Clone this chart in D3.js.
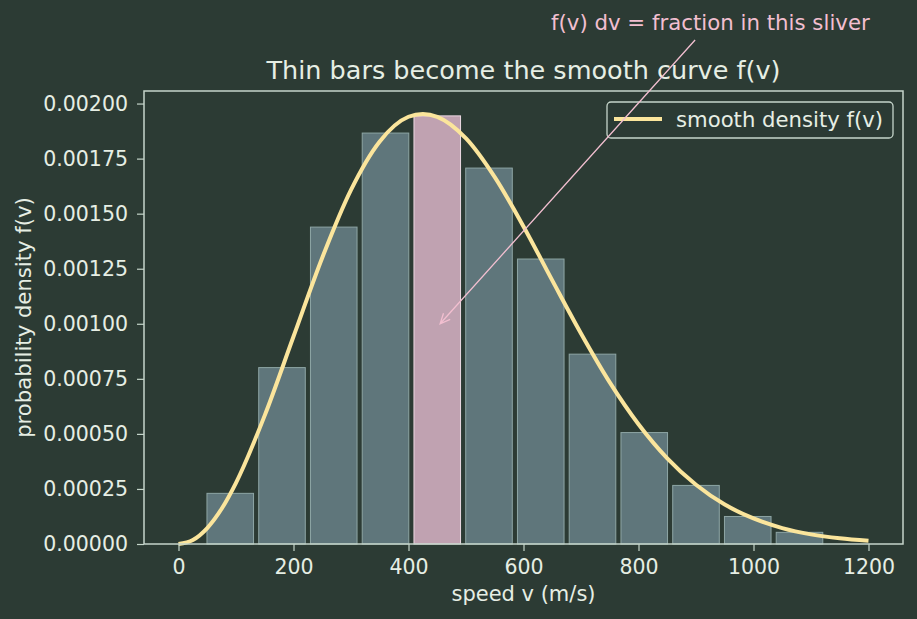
<!DOCTYPE html>
<html>
<head>
<meta charset="utf-8">
<script src="https://cdn.jsdelivr.net/npm/d3@7"></script>
<style>
  html, body { margin: 0; padding: 0; background: #2c3b34; }
  svg text { font-family: "DejaVu Sans", sans-serif; }
</style>
</head>
<body>
<div id="chart-area"></div>
<script>
// histogram bins (centre of each 90 m/s bin) and their heights
var binCenters = [90, 180, 270, 360, 450, 540, 630, 720, 810, 900, 990, 1080];
var binDensity = [0.000230, 0.000801, 0.001439, 0.001866, 0.001944, 0.001707,
                  0.001294, 0.000862, 0.000506, 0.000266, 0.000125, 0.000053];
var binWidth = 90;
var highlightBin = 450;

// smooth density curve
var curveSpeed = [0, 25, 50, 75, 100, 150, 200, 250, 300, 350, 400, 425, 450, 500, 550, 600,
                  650, 700, 750, 800, 850, 900, 950, 1000, 1050, 1100, 1150, 1200];
var curveDensity = [0, 0.0000183, 0.0000725, 0.000160, 0.000278, 0.000584, 0.000942, 0.001300,
                    0.001608, 0.001828, 0.001940, 0.001953, 0.001940, 0.001842, 0.001666, 0.001442,
                    0.001197, 0.000956, 0.000734, 0.000544, 0.000389, 0.000269, 0.000179,
                    0.000116, 0.0000724, 0.0000438, 0.0000257, 0.0000146];

var xTicks = [0, 200, 400, 600, 800, 1000, 1200];
var yTicks = [0, 0.00025, 0.0005, 0.00075, 0.001, 0.00125, 0.0015, 0.00175, 0.002];

var margin = { top: 91, right: 14, bottom: 75, left: 144 };
var width = 917 - margin.left - margin.right;
var height = 619 - margin.top - margin.bottom;

var bg = "#2c3b34";
var fg = "#e6eee4";
var spine = "#c5d5ca";
var gold = "#fbe59c";
var pink = "#f2bfd0";

var svg = d3.select("#chart-area")
  .append("svg")
  .attr("width", 917)
  .attr("height", 619)
  .style("background-color", bg);

var g = svg.append("g")
  .attr("transform", "translate(" + margin.left + "," + margin.top + ")");

var x = d3.scaleLinear()
  .domain([-60, 1260])
  .range([0, width]);

var y = d3.scaleLinear()
  .domain([0, 0.002057])
  .range([height, 0]);

// bars
g.selectAll("rect.bar")
  .data(binCenters)
  .enter().append("rect")
  .attr("class", "bar")
  .attr("x", (d) => x(d - binWidth * 0.45))
  .attr("width", (d) => x(d + binWidth * 0.45) - x(d - binWidth * 0.45))
  .attr("y", (d, i) => y(binDensity[i]))
  .attr("height", (d, i) => height - y(binDensity[i]))
  .attr("fill", (d) => d === highlightBin ? "#c0a2b1" : "#5f767b")
  .attr("stroke", (d) => d === highlightBin ? "#ecd9e2" : "#8ea6a5")
  .attr("stroke-width", 1);

// curve
var line = d3.line()
  .x((d) => x(d))
  .y((d, i) => y(curveDensity[i]))
  .curve(d3.curveMonotoneX);

g.append("path")
  .datum(curveSpeed)
  .attr("d", line)
  .attr("fill", "none")
  .attr("stroke", gold)
  .attr("stroke-width", 4)
  .attr("stroke-linecap", "butt");

// axes
g.append("g")
  .attr("transform", "translate(0," + height + ")")
  .call(d3.axisBottom(x).tickValues(xTicks).tickSize(7).tickPadding(8).tickFormat(d3.format("d")));

g.append("g")
  .call(d3.axisLeft(y).tickValues(yTicks).tickSize(7).tickPadding(9).tickFormat(d3.format(".5f")));

g.selectAll(".domain").remove();
g.selectAll(".tick line").attr("stroke", spine).attr("stroke-width", 1.2);
g.selectAll(".tick text")
  .attr("fill", fg)
  .attr("font-size", "20.5px")
  .attr("font-family", "DejaVu Sans");

// frame
g.append("rect")
  .attr("x", 0).attr("y", 0)
  .attr("width", width).attr("height", height)
  .attr("fill", "none")
  .attr("stroke", spine)
  .attr("stroke-width", 1.5);

// labels
g.append("text")
  .attr("x", width / 2)
  .attr("y", height + 57)
  .attr("text-anchor", "middle")
  .attr("font-size", "21px")
  .attr("fill", fg)
  .text("speed v (m/s)");

g.append("text")
  .attr("transform", "rotate(-90)")
  .attr("x", -(height / 2))
  .attr("y", -113)
  .attr("text-anchor", "middle")
  .attr("font-size", "21.2px")
  .attr("fill", fg)
  .text("probability density f(v)");

g.append("text")
  .attr("x", width / 2)
  .attr("y", -12.5)
  .attr("text-anchor", "middle")
  .attr("font-size", "25.5px")
  .attr("fill", fg)
  .text("Thin bars become the smooth curve f(v)");

// legend
var legend = g.append("g")
  .attr("transform", "translate(" + (width - 296) + ",11)");

legend.append("rect")
  .attr("width", 286).attr("height", 36)
  .attr("rx", 4)
  .attr("fill", bg)
  .attr("fill-opacity", 0.8)
  .attr("stroke", spine)
  .attr("stroke-width", 1.3);

legend.append("line")
  .attr("x1", 7).attr("x2", 55)
  .attr("y1", 17).attr("y2", 17)
  .attr("stroke", gold)
  .attr("stroke-width", 4);

legend.append("text")
  .attr("x", 69).attr("y", 25)
  .attr("font-size", "21.2px")
  .attr("fill", fg)
  .text("smooth density f(v)");

// annotation
var target = [455, 0.001];
var labelAt = [925, 0.002334];

var tx = x(labelAt[0]), ty = y(labelAt[1]);
var px = x(target[0]), py = y(target[1]);

g.append("text")
  .attr("x", tx).attr("y", ty)
  .attr("text-anchor", "middle")
  .attr("font-size", "21.3px")
  .attr("fill", pink)
  .text("f(v) dv = fraction in this sliver");

var cx = tx, cy = ty - 7;
var t0 = (ty + 10 - cy) / (py - cy);
var sx = cx + (px - cx) * t0, sy = cy + (py - cy) * t0;
var ang = Math.atan2(py - sy, px - sx);
var hl = 11, hw = 0.42;

svg.append("path")
  .attr("transform", "translate(" + margin.left + "," + margin.top + ")")
  .attr("d", "M" + sx + "," + sy + "L" + px + "," + py +
    "M" + (px - hl * Math.cos(ang - hw)) + "," + (py - hl * Math.sin(ang - hw)) +
    "L" + px + "," + py +
    "L" + (px - hl * Math.cos(ang + hw)) + "," + (py - hl * Math.sin(ang + hw)))
  .attr("fill", "none")
  .attr("stroke", pink)
  .attr("stroke-width", 1.3);
</script>
</body>
</html>
